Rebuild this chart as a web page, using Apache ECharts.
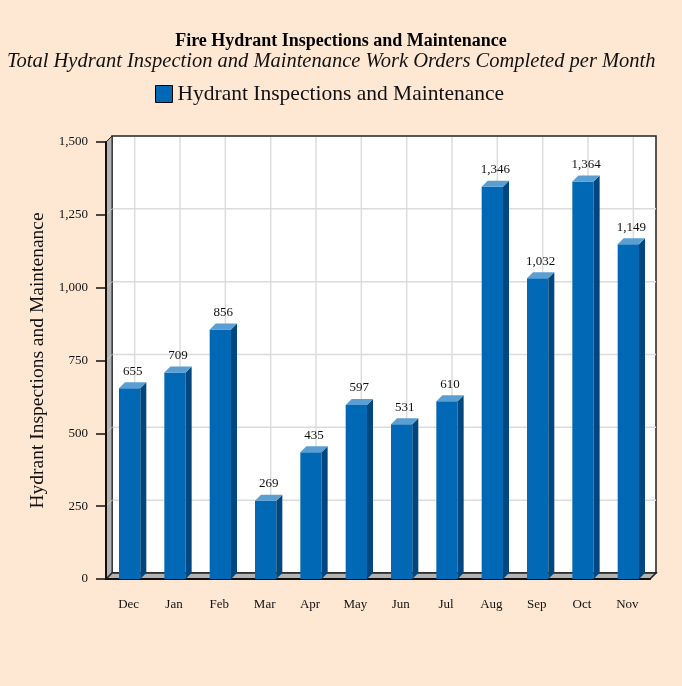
<!DOCTYPE html>
<html>
<head>
<meta charset="utf-8">
<style>
  html, body { margin: 0; padding: 0; background: #fee8d4; }
  #chart { width: 682px; height: 686px; }
</style>
<script src="https://cdn.jsdelivr.net/npm/echarts@6/dist/echarts.min.js"></script>
</head>
<body>
<div id="chart"></div>
<script>
// data
const months = ['Dec', 'Jan', 'Feb', 'Mar', 'Apr', 'May', 'Jun', 'Jul', 'Aug', 'Sep', 'Oct', 'Nov']
const workOrders = [655, 709, 856, 269, 435, 597, 531, 610, 1346, 1032, 1364, 1149]
const yTicks = [0, 250, 500, 750, 1000, 1250, 1500]

const seriesName = 'Hydrant Inspections and Maintenance'
const serif = '"Liberation Serif", "DejaVu Serif", serif'
const D = 6 // depth of the fake 3d

const fmt = v => v.toLocaleString('en-US')

// back wall, left wall, floor and the grid lines on the back wall
function renderFrame(params, api) {
  const cs = params.coordSys
  const x = cs.x, y = cs.y, w = cs.width, h = cs.height
  const kids = []
  kids.push({
    type: 'rect',
    shape: { x: x + D, y: y - D, width: w, height: h },
    style: { fill: '#fff', stroke: '#222', lineWidth: 1.5 }
  })
  yTicks.forEach(v => {
    const py = api.coord([0, v])[1]
    if (v > 0 && v < yTicks[yTicks.length - 1]) {
      kids.push({
        type: 'line',
        shape: { x1: x + D, y1: py - D, x2: x + w + D, y2: py - D },
        style: { stroke: '#dcdcdc', lineWidth: 1.5 }
      })
    }
  })
  months.forEach((m, i) => {
    const px = api.coord([i, 0])[0]
    kids.push({
      type: 'line',
      shape: { x1: px + D, y1: y - D + 1, x2: px + D, y2: y + h - D - 1 },
      style: { stroke: '#dcdcdc', lineWidth: 1.5 }
    })
  })
  kids.push({
    type: 'polygon',
    shape: { points: [[x, y + h], [x, y], [x + D, y - D], [x + D, y + h - D]] },
    style: { fill: '#b3b3b3', stroke: '#222', lineWidth: 1 }
  })
  yTicks.forEach(v => {
    const py = api.coord([0, v])[1]
    if (v > 0 && v < yTicks[yTicks.length - 1]) {
      kids.push({
        type: 'line',
        shape: { x1: x, y1: py, x2: x + D, y2: py - D },
        style: { stroke: '#d0d0d0', lineWidth: 1 }
      })
    }
  })
  kids.push({
    type: 'polygon',
    shape: { points: [[x, y + h], [x + D, y + h - D], [x + w + D, y + h - D], [x + w, y + h]] },
    style: { fill: '#b3b3b3', stroke: '#222', lineWidth: 1.5 }
  })
  return { type: 'group', children: kids }
}

// one 3d bar: front face, right side, top and the value label
function renderBar(params, api) {
  const cat = api.value(0)
  const val = api.value(1)
  const top = api.coord([cat, val])
  const base = api.coord([cat, 0])
  const bw = api.size([1, 0])[0] * 0.47
  const xl = top[0] - bw / 2 + 1
  const xr = xl + bw
  const yt = top[1]
  const yb = base[1]
  return {
    type: 'group',
    children: [
      {
        type: 'rect',
        shape: { x: xl, y: yt, width: bw, height: yb - yt },
        style: { fill: '#0068b5' }
      },
      {
        type: 'polygon',
        shape: { points: [[xr, yb], [xr, yt], [xr + D, yt - D], [xr + D, yb - D]] },
        style: { fill: '#00477f' }
      },
      {
        type: 'polygon',
        shape: { points: [[xl, yt], [xl + D, yt - D], [xr + D, yt - D], [xr, yt]] },
        style: { fill: '#5b9fd2' }
      },
      {
        type: 'text',
        style: {
          x: (xl + xr) / 2 + D / 2,
          y: yt - D - 11,
          text: fmt(val),
          fill: '#111',
          font: '13px ' + serif,
          align: 'center',
          verticalAlign: 'middle'
        }
      }
    ]
  }
}

const chart = echarts.init(document.getElementById('chart'))

chart.setOption({
  backgroundColor: '#fee8d4',
  animation: false,
  title: [
    {
      text: 'Fire Hydrant Inspections and Maintenance',
      left: 'center',
      top: 27,
      textStyle: { fontFamily: serif, fontSize: 18, fontWeight: 'bold', color: '#000' }
    },
    {
      text: 'Total Hydrant Inspection and Maintenance Work Orders Completed per Month',
      left: 2,
      top: 47,
      textStyle: { fontFamily: serif, fontSize: 20.5, fontStyle: 'italic', fontWeight: 'normal', color: '#111' }
    }
  ],
  legend: {
    top: 83,
    left: 155,
    padding: 0,
    icon: 'rect',
    itemWidth: 17,
    itemHeight: 17,
    itemGap: 8,
    itemStyle: { borderColor: '#000', borderWidth: 1 },
    textStyle: { fontFamily: serif, fontSize: 21.5, color: '#111' },
    data: [seriesName]
  },
  grid: { left: 106, right: 32, top: 142, bottom: 107 },
  xAxis: {
    type: 'category',
    data: months,
    axisLine: { lineStyle: { color: '#111', width: 2 } },
    axisTick: { alignWithLabel: true, length: 10, lineStyle: { color: '#111', width: 1.5 } },
    axisLabel: { fontFamily: serif, fontSize: 13, color: '#111', margin: 19 },
    splitLine: { show: false }
  },
  yAxis: {
    type: 'value',
    min: 0,
    max: 1500,
    interval: 250,
    name: seriesName,
    nameLocation: 'middle',
    nameGap: 58,
    nameRotate: 90,
    nameTextStyle: { fontFamily: serif, fontSize: 19.5, color: '#111' },
    axisLine: { show: true, lineStyle: { color: '#111', width: 2 } },
    axisTick: { show: true, length: 10, lineStyle: { color: '#111', width: 1.5 } },
    axisLabel: { fontFamily: serif, fontSize: 13, color: '#111', margin: 18, formatter: v => fmt(v) },
    splitLine: { show: false }
  },
  series: [
    {
      type: 'custom',
      name: 'frame',
      z: -1,
      silent: true,
      renderItem: renderFrame,
      data: [[0, 0]]
    },
    {
      type: 'custom',
      name: seriesName,
      itemStyle: { color: '#0068b5' },
      renderItem: renderBar,
      encode: { x: 0, y: 1 },
      data: workOrders.map((v, i) => [i, v])
    }
  ]
})
</script>
</body>
</html>
